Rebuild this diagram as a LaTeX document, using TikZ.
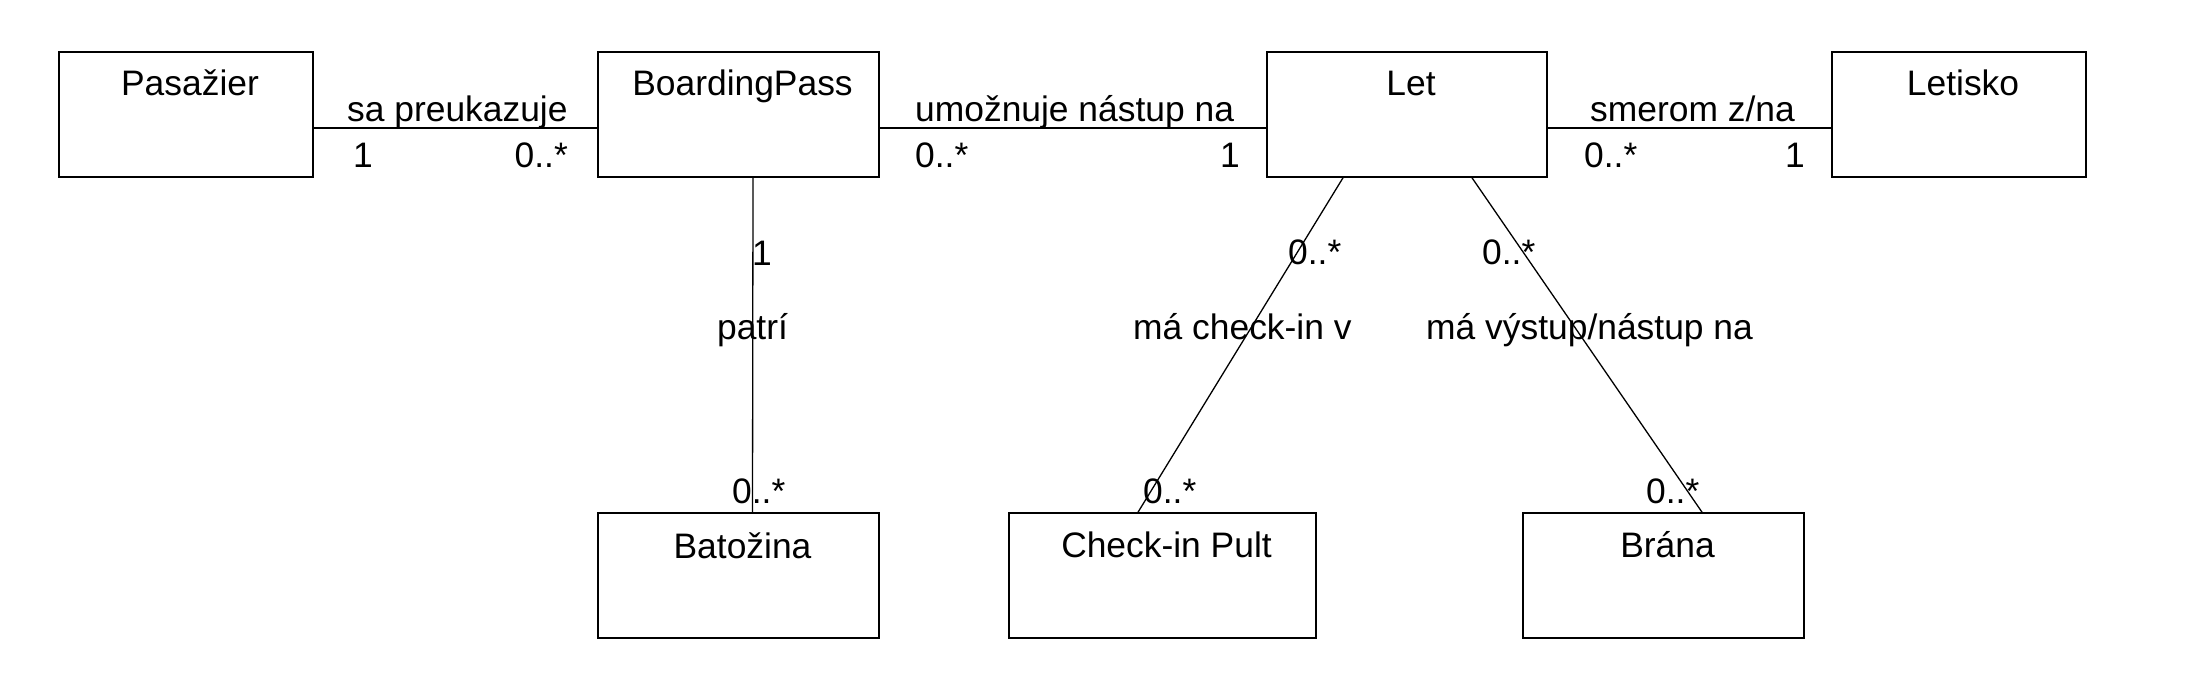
\documentclass[tikz,border=0pt]{standalone}
\usepackage{fontspec}
\setmainfont{Liberation Sans}
\begin{document}
\begin{tikzpicture}[x=1pt,y=-1pt,
  umlbox/.style={draw=black,line width=1.6pt,rectangle,inner sep=0pt,minimum height=125pt,fill=white},
  title/.style={anchor=base,inner sep=0pt,font=\fontsize{35.4pt}{40pt}\selectfont},
  lbl/.style={inner sep=0pt,font=\fontsize{35.4pt}{40pt}\selectfont},
  assoc/.style={draw=black,line width=1.3pt}]
\useasboundingbox[fill=white] (0,0) rectangle (2202,684);
% boxes
\node[umlbox,minimum width=254pt] (pas) at (186,114.5) {};
\node[umlbox,minimum width=281pt] (bp) at (738.5,114.5) {};
\node[umlbox,minimum width=280pt] (let) at (1407,114.5) {};
\node[umlbox,minimum width=254pt] (air) at (1959,114.5) {};
\node[umlbox,minimum width=281pt] (bag) at (738.5,575.5) {};
\node[umlbox,minimum width=307pt] (desk) at (1162.5,575.5) {};
\node[umlbox,minimum width=281pt] (gate) at (1663.5,575.5) {};
% titles
\node[title] (pas-t) at ([xshift=4pt,yshift=-44.5pt]pas.north) {Pasažier};
\node[title] (bp-t) at ([xshift=4pt,yshift=-44.5pt]bp.north) {BoardingPass};
\node[title] (let-t) at ([xshift=4pt,yshift=-44.5pt]let.north) {Let};
\node[title] (air-t) at ([xshift=4pt,yshift=-44.5pt]air.north) {Letisko};
\node[title] (bag-t) at ([xshift=4pt,yshift=-46pt]bag.north) {Batožina};
\node[title] (desk-t) at ([xshift=4pt,yshift=-45pt]desk.north) {Check-in Pult};
\node[title] (gate-t) at ([xshift=4pt,yshift=-45pt]gate.north) {Brána};
% connectors
\draw[assoc] ([yshift=-13.5pt]pas.east) -- ([yshift=-13.5pt]bp.west);
\draw[assoc] ([yshift=-13.5pt]bp.east) -- ([yshift=-13.5pt]let.west);
\draw[assoc] ([yshift=-13.5pt]let.east) -- ([yshift=-13.5pt]air.west);
\draw[assoc] ([xshift=14.5pt]bp.south) -- ([xshift=14pt]bag.north);
\draw[assoc] ([xshift=-64pt]let.south) -- ([xshift=-24.5pt]desk.north);
\draw[assoc] ([xshift=65pt]let.south) -- ([xshift=38.5pt]gate.north);
% labels: Pasazier - BoardingPass
\node[lbl,anchor=base west] (l1) at (347,122) {sa preukazuje};
\node[lbl,anchor=base west] (m1a) at (353,168) {1};
\node[lbl,anchor=base east] (m1b) at (568,168) {0..*};
% BoardingPass - Let
\node[lbl,anchor=base west] (l2) at (915,122) {umožnuje nástup na};
\node[lbl,anchor=base west] (m2a) at (915,168) {0..*};
\node[lbl,anchor=base east] (m2b) at (1240,168) {1};
% Let - Letisko
\node[lbl,anchor=base west] (l3) at (1590,122) {smerom z/na};
\node[lbl,anchor=base west] (m3a) at (1584,168) {0..*};
\node[lbl,anchor=base east] (m3b) at (1805,168) {1};
% BoardingPass - Batozina
\node[lbl,anchor=base west] (m4a) at (752,266) {1};
\node[lbl,anchor=base] (l4) at (752.5,340) {patrí};
\node[lbl,anchor=base west] (m4b) at (732,503) {0..*};
% Let - Check-in Pult
\node[lbl,anchor=base west] (m5a) at (1288,265) {0..*};
\node[lbl,anchor=base west] (l5) at (1133,340) {má check-in v};
\node[lbl,anchor=base west] (m5b) at (1143,503) {0..*};
% Let - Brana
\node[lbl,anchor=base west] (m6a) at (1482,265) {0..*};
\node[lbl,anchor=base west] (l6) at (1426,340) {má výstup/nástup na};
\node[lbl,anchor=base west] (m6b) at (1646,503) {0..*};
\end{tikzpicture}
\end{document}
